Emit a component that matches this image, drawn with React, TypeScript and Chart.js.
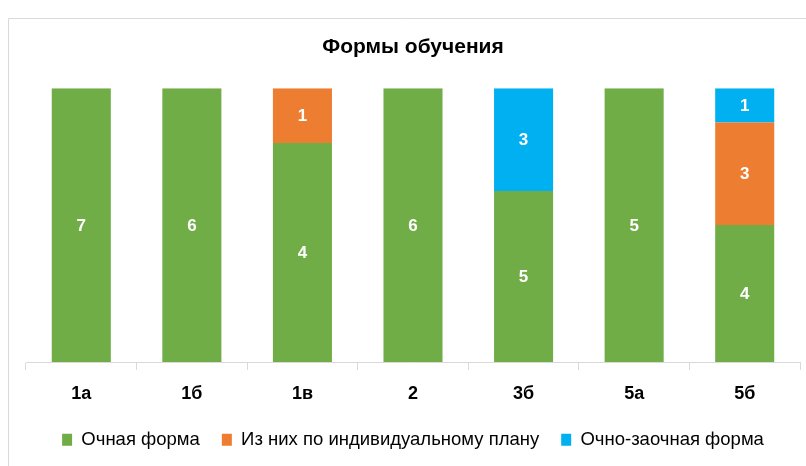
import React, { useEffect, useRef } from "react";
import { Chart, registerables } from "chart.js";

Chart.register(...registerables);

const categories = ["1а", "1б", "1в", "2", "3б", "5а", "5б"];
const fullTime = [7, 6, 4, 6, 5, 5, 4];
const individualPlan = [0, 0, 1, 0, 0, 0, 3];
const partTime = [0, 0, 0, 0, 3, 0, 1];
const seriesNames = ["Очная форма", "Из них по индивидуальному плану", "Очно-заочная форма"];
const seriesColors = ["#70ad47", "#ed7d31", "#00b0f0"];
const titleText = "Формы обучения";

const FONT = "'Liberation Sans', 'Noto Sans', sans-serif";

export default function App() {
  const ref = useRef<HTMLCanvasElement | null>(null);

  useEffect(() => {
    const raw = [fullTime, individualPlan, partTime];
    const totals = categories.map((_, i) => raw.reduce((s, arr) => s + arr[i], 0));
    const pct = raw.map((arr) => arr.map((v, i) => (v / totals[i]) * 100));

    const framePlugin = {
      id: "frame",
      beforeDraw(chart: any) {
        const ctx = chart.ctx;
        ctx.save();
        ctx.fillStyle = "#ffffff";
        ctx.fillRect(0, 0, chart.width, chart.height);
        ctx.strokeStyle = "#d9d9d9";
        ctx.lineWidth = 1;
        ctx.beginPath();
        ctx.moveTo(8.5, chart.height);
        ctx.lineTo(8.5, 18.5);
        ctx.lineTo(chart.width, 18.5);
        ctx.stroke();
        ctx.restore();
      },
    };

    const labelPlugin = {
      id: "valueLabels",
      afterDatasetsDraw(chart: any) {
        const ctx = chart.ctx;
        ctx.save();
        ctx.fillStyle = "#ffffff";
        ctx.font = `bold 17px ${FONT}`;
        ctx.textAlign = "center";
        ctx.textBaseline = "middle";
        chart.data.datasets.forEach((ds: any, di: number) => {
          const meta = chart.getDatasetMeta(di);
          meta.data.forEach((bar: any, i: number) => {
            const v = raw[di][i];
            if (!v) return;
            const { x, y, base } = bar.getProps(["x", "y", "base"], true);
            ctx.fillText(String(v), x, (y + base) / 2 + 1);
          });
        });
        ctx.restore();
      },
    };

    const chart = new Chart(ref.current!, {
      type: "bar",
      data: {
        labels: categories,
        datasets: seriesNames.map((name, di) => ({
          label: name,
          data: pct[di],
          backgroundColor: seriesColors[di],
          borderWidth: 0,
          categoryPercentage: 1,
          barPercentage: 0.534,
        })),
      },
      options: {
        responsive: false,
        animation: false,
        devicePixelRatio: 1,
        layout: { padding: { top: 23, left: 26, right: 6, bottom: 7 } },
        plugins: {
          title: {
            display: true,
            text: titleText,
            color: "#000000",
            font: { family: FONT, size: 21, weight: "bold" },
            padding: { top: 12, bottom: 28 },
          },
          legend: {
            position: "bottom",
            labels: {
              color: "#000000",
              font: { family: FONT, size: 18.5 },
              boxWidth: 10,
              boxHeight: 12,
              padding: 22,
            },
          },
          tooltip: { enabled: false },
        },
        scales: {
          x: {
            stacked: true,
            grid: {
              offset: true,
              drawOnChartArea: false,
              drawTicks: true,
              tickLength: 8,
              color: "#d9d9d9",
            },
            border: { display: true, color: "#d9d9d9" },
            ticks: {
              color: "#000000",
              font: { family: FONT, size: 18, weight: "bold" },
              padding: 13,
            },
            afterFit(scale: any) {
              scale.height = 46.5;
            },
          },
          y: {
            stacked: true,
            display: false,
            min: 0,
            max: 100,
          },
        },
      },
      plugins: [framePlugin, labelPlugin],
    });
    return () => chart.destroy();
  }, []);

  return (
    <div style={{ position: "fixed", left: 0, top: 0, width: 806, height: 466, background: "#fff" }}>
      <canvas ref={ref} width={806} height={466} style={{ display: "block" }} />
    </div>
  );
}
